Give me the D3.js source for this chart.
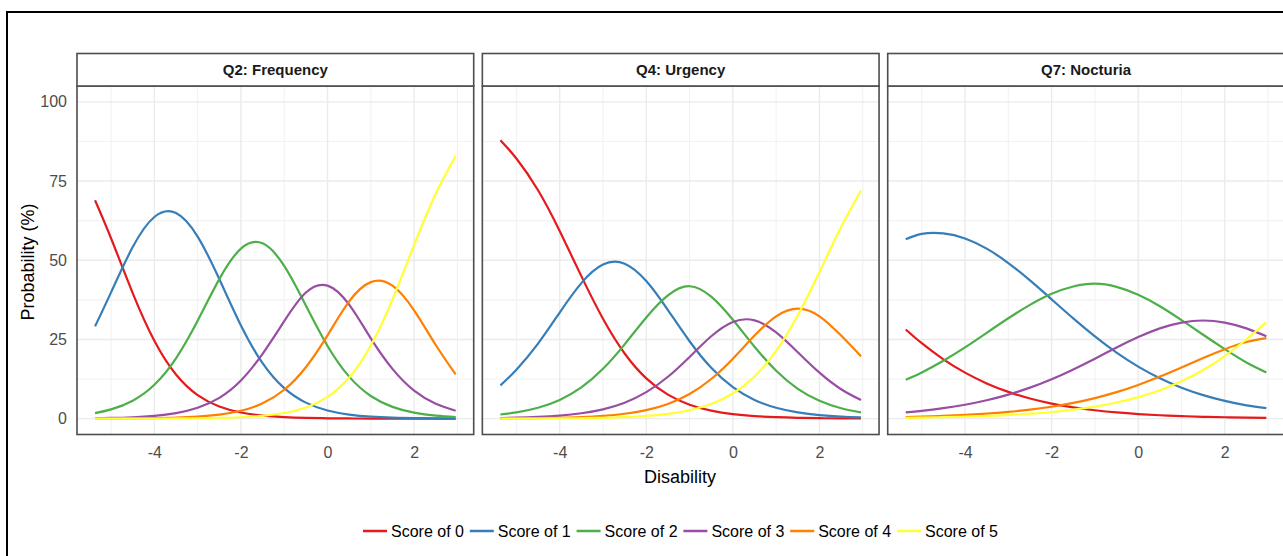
<!DOCTYPE html>
<html><head><meta charset="utf-8">
<script src="https://cdn.jsdelivr.net/npm/d3@7"></script>
<style>
body{margin:0;background:#fff}
svg{display:block}
text{font-family:Arial,"Liberation Sans",sans-serif}
</style>
</head><body>
<svg id="c" width="1283" height="556"></svg>
<script>
// ---- data ----
const xs = [-5.37, -5, -4.5, -4, -3.5, -3, -2.5, -2, -1.5, -1, -0.5, 0, 0.5, 1, 1.5, 2, 2.5, 2.96];
const panelNames = ["Q2: Frequency", "Q4: Urgency", "Q7: Nocturia"];
const seriesNames = ["Score of 0", "Score of 1", "Score of 2", "Score of 3", "Score of 4", "Score of 5"];
const seriesColors = ["#E41A1C", "#377EB8", "#4DAF4A", "#984EA3", "#FF7F00", "#FFFF33"];
const xTicks = [-4, -2, 0, 2];
const yTicks = [0, 25, 50, 75, 100];

// Q2: Frequency
const q2s0 = [68.95, 56.95, 39.65, 24.60, 13.94, 7.45, 3.84, 1.94, 0.98, 0.49, 0.24, 0.12, 0.06, 0.03, 0.02, 0.01, 0.00, 0.00];
const q2s1 = [29.13, 39.87, 54.15, 63.65, 64.91, 57.48, 44.06, 29.41, 17.50, 9.63, 5.06, 2.58, 1.30, 0.65, 0.33, 0.17, 0.08, 0.04];
const q2s2 = [1.76, 2.92, 5.67, 10.69, 19.04, 30.90, 44.05, 53.67, 55.33, 48.20, 35.70, 22.95, 13.27, 7.16, 3.72, 1.89, 0.95, 0.50];
const q2s3 = [0.13, 0.22, 0.44, 0.88, 1.74, 3.43, 6.57, 12.05, 20.46, 30.77, 39.80, 42.00, 36.00, 25.34, 15.72, 8.85, 4.70, 2.51];
const q2s4 = [0.02, 0.04, 0.08, 0.16, 0.31, 0.63, 1.26, 2.48, 4.83, 9.12, 16.24, 26.29, 37.03, 43.10, 42.00, 34.21, 23.26, 14.00];
const q2s5 = [0.00, 0.01, 0.01, 0.03, 0.06, 0.11, 0.22, 0.45, 0.90, 1.79, 3.54, 6.89, 12.97, 23.08, 37.66, 54.88, 71.01, 82.90];
// Q4: Urgency
const q4s0 = [87.90, 82.11, 72.09, 59.24, 44.99, 31.52, 20.57, 12.72, 7.58, 4.41, 2.53, 1.44, 0.82, 0.46, 0.26, 0.15, 0.08, 0.05];
const q4s1 = [10.50, 15.47, 23.69, 33.50, 42.79, 48.65, 48.90, 43.42, 34.29, 24.43, 16.04, 9.93, 5.92, 3.44, 1.98, 1.12, 0.64, 0.38];
const q4s2 = [1.32, 1.99, 3.46, 5.92, 9.87, 15.73, 23.46, 31.95, 38.90, 41.80, 38.50, 31.21, 22.72, 15.12, 9.43, 5.65, 3.29, 1.99];
const q4s3 = [0.20, 0.31, 0.55, 0.97, 1.70, 2.95, 5.04, 8.36, 13.22, 19.49, 26.00, 30.53, 31.03, 27.25, 20.97, 14.51, 9.29, 5.88];
const q4s4 = [0.06, 0.09, 0.16, 0.28, 0.50, 0.88, 1.55, 2.69, 4.64, 7.77, 12.51, 18.94, 26.22, 32.30, 34.72, 32.30, 26.22, 19.70];
const q4s5 = [0.02, 0.03, 0.05, 0.09, 0.15, 0.27, 0.49, 0.86, 1.52, 2.66, 4.63, 7.95, 13.30, 21.43, 32.64, 46.27, 60.48, 72.00];
// Q7: Nocturia
const q7s0 = [28.15, 23.81, 18.73, 14.52, 11.13, 8.45, 6.37, 4.77, 3.57, 2.66, 1.97, 1.46, 1.08, 0.80, 0.59, 0.44, 0.32, 0.24];
const q7s1 = [56.60, 58.32, 58.48, 56.88, 53.66, 49.12, 43.63, 37.66, 31.64, 25.94, 20.82, 16.41, 12.74, 9.77, 7.43, 5.60, 4.20, 3.30];
const q7s2 = [12.30, 14.60, 18.30, 22.50, 27.10, 31.70, 35.90, 39.40, 41.70, 42.60, 41.60, 39.10, 35.50, 31.12, 26.49, 21.95, 17.74, 14.60];
const q7s3 = [2.00, 2.48, 3.32, 4.40, 5.80, 7.59, 9.80, 12.45, 15.55, 18.93, 22.45, 25.75, 28.50, 30.33, 30.98, 30.33, 28.50, 26.00];
const q7s4 = [0.52, 0.65, 0.87, 1.18, 1.59, 2.13, 2.83, 3.77, 4.96, 6.49, 8.37, 10.65, 13.28, 16.17, 19.14, 21.92, 24.18, 25.40];
const q7s5 = [0.27, 0.34, 0.47, 0.63, 0.85, 1.15, 1.56, 2.10, 2.83, 3.80, 5.09, 6.78, 8.98, 11.81, 15.37, 19.77, 25.06, 30.40];

const panelSeries = [
  [q2s0, q2s1, q2s2, q2s3, q2s4, q2s5],
  [q4s0, q4s1, q4s2, q4s3, q4s4, q4s5],
  [q7s0, q7s1, q7s2, q7s3, q7s4, q7s5]
];

// ---- layout ----
const svg = d3.select("#c");
svg.append("rect").attr("width", 1283).attr("height", 556).attr("fill", "#fff");
svg.append("rect").attr("x", 7).attr("y", 12).attr("width", 1300).attr("height", 600)
  .attr("fill", "none").attr("stroke", "#000").attr("stroke-width", 2);

const left0 = 77, panelW = 396.7, step = 405.35;
const stripTop = 53.5, panelTop = 86, panelBottom = 434.5;
const borderCol = "#4d4d4d";
const fontFam = "Arial, 'Liberation Sans', sans-serif";

const xExt = d3.extent(xs);
const xPad = (xExt[1] - xExt[0]) * 0.05;
const y = d3.scaleLinear().domain([-5, 105]).range([panelBottom, panelTop]);
const yMinor = [12.5, 37.5, 62.5, 87.5];
const xMinor = [-5, -3, -1, 1, 3];

panelNames.forEach((name, pi) => {
  const L = left0 + pi * step;
  const x = d3.scaleLinear().domain([xExt[0] - xPad, xExt[1] + xPad]).range([L, L + panelW]);
  const g = svg.append("g");
  const clipId = "clip" + pi;
  svg.append("clipPath").attr("id", clipId).append("rect")
    .attr("x", L).attr("y", panelTop).attr("width", panelW).attr("height", panelBottom - panelTop);

  const grid = g.append("g").attr("clip-path", `url(#${clipId})`);
  grid.selectAll(".ymn").data(yMinor).join("line")
    .attr("x1", L).attr("x2", L + panelW).attr("y1", d => y(d)).attr("y2", d => y(d))
    .attr("stroke", "#f2f2f2").attr("stroke-width", 1.1);
  grid.selectAll(".xmn").data(xMinor).join("line")
    .attr("y1", panelTop).attr("y2", panelBottom).attr("x1", d => x(d)).attr("x2", d => x(d))
    .attr("stroke", "#f2f2f2").attr("stroke-width", 1.1);
  grid.selectAll(".ymj").data(yTicks).join("line")
    .attr("x1", L).attr("x2", L + panelW).attr("y1", d => y(d)).attr("y2", d => y(d))
    .attr("stroke", "#ebebeb").attr("stroke-width", 1.4);
  grid.selectAll(".xmj").data(xTicks).join("line")
    .attr("y1", panelTop).attr("y2", panelBottom).attr("x1", d => x(d)).attr("x2", d => x(d))
    .attr("stroke", "#ebebeb").attr("stroke-width", 1.4);

  const line = d3.line().x((d, i) => x(xs[i])).y(d => y(d)).curve(d3.curveNatural);
  const lines = g.append("g").attr("clip-path", `url(#${clipId})`);
  panelSeries[pi].forEach((vals, si) => {
    lines.append("path").attr("d", line(vals)).attr("fill", "none")
      .attr("stroke", seriesColors[si]).attr("stroke-width", 2.2);
  });

  // panel border
  g.append("rect").attr("x", L).attr("y", panelTop).attr("width", panelW).attr("height", panelBottom - panelTop)
    .attr("fill", "none").attr("stroke", borderCol).attr("stroke-width", 1.6);
  // strip
  g.append("rect").attr("x", L).attr("y", stripTop).attr("width", panelW).attr("height", panelTop - stripTop)
    .attr("fill", "#fff").attr("stroke", borderCol).attr("stroke-width", 1.6);
  g.append("text").attr("x", L + panelW / 2).attr("y", (stripTop + panelTop) / 2).attr("dy", "0.36em")
    .attr("text-anchor", "middle").attr("font-size", 15).attr("font-weight", "bold")
    .attr("fill", "#1a1a1a").text(name);

  // x axis
  const ax = g.append("g").attr("transform", `translate(0,${panelBottom})`)
    .call(d3.axisBottom(x).tickValues(xTicks).tickSize(0).tickPadding(12).tickFormat(d => String(d)));
  ax.select(".domain").remove();
  ax.selectAll("text").attr("font-size", 16).attr("fill", "#4d4d4d").attr("font-family", fontFam);

  if (pi === 0) {
    const ay = g.append("g").attr("transform", `translate(${L},0)`)
      .call(d3.axisLeft(y).tickValues(yTicks).tickSize(0).tickPadding(10).tickFormat(d => String(d)));
    ay.select(".domain").remove();
    ay.selectAll("text").attr("font-size", 16).attr("fill", "#4d4d4d").attr("font-family", fontFam);
  }
});

// axis titles
svg.append("text").attr("x", 680).attr("y", 483).attr("text-anchor", "middle")
  .attr("font-size", 18).attr("fill", "#000").text("Disability");
svg.append("text").attr("transform", `translate(34,262) rotate(-90)`).attr("text-anchor", "middle")
  .attr("font-size", 18).attr("fill", "#000").text("Probability (%)");

// legend
const legX0 = 363, legStep = 106.8, legY = 531;
const leg = svg.append("g");
seriesNames.forEach((n, i) => {
  const lx = legX0 + i * legStep;
  leg.append("line").attr("x1", lx).attr("x2", lx + 24).attr("y1", legY).attr("y2", legY)
    .attr("stroke", seriesColors[i]).attr("stroke-width", 2.5);
  leg.append("text").attr("x", lx + 28).attr("y", legY).attr("dy", "0.36em")
    .attr("font-size", 16).attr("fill", "#000").text(n);
});
</script>
</body></html>
